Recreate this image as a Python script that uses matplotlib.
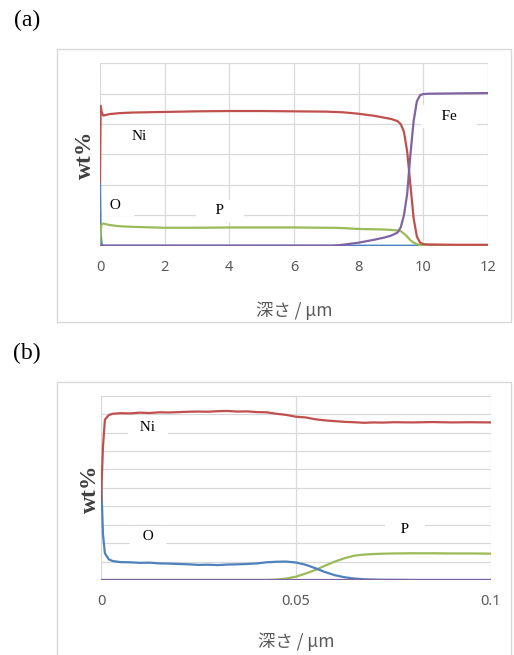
import matplotlib
matplotlib.use("Agg")
import matplotlib.pyplot as plt
from matplotlib.patches import Rectangle

RED = "#c0504d"
BLUE = "#4f81bd"
GREEN = "#9bbb59"
PURPLE = "#8064a2"
GRID = "#d9d9d9"
TXT = "#595959"

# ---- panel (a): depth 0-12 um ----
depth_a = [0, 0.02, 0.05, 0.1, 0.3, 0.6, 1, 2, 3, 4, 5, 6, 7, 7.2, 7.5, 8, 8.5,
           8.8, 9.0, 9.2, 9.3, 9.4, 9.5, 9.6, 9.7, 9.8, 9.9, 10.0, 10.2, 11, 12]
ni_a = [21, 46, 44, 42.8, 43.3, 43.6, 43.8, 44.0, 44.2, 44.3, 44.3, 44.2, 44.1, 44.0,
        43.9, 43.4, 42.7, 42.1, 41.7, 41.0, 40.0, 37.5, 31, 20, 9, 3, 1, 0.5, 0.4, 0.3, 0.3]
o_a = [21, 4, 0.5, 0, 0, 0, 0, 0, 0, 0, 0, 0, 0, 0, 0, 0, 0,
       0, 0, 0, 0, 0, 0, 0, 0, 0, 0, 0, 0, 0, 0]
p_a = [0, 5, 7.0, 7.3, 6.8, 6.4, 6.2, 5.9, 5.9, 6.0, 6.0, 6.0, 5.9, 5.9, 5.8, 5.5, 5.4,
       5.3, 5.2, 5.0, 4.8, 4.0, 3.0, 1.8, 1.0, 0.5, 0.2, 0.2, 0.2, 0.2, 0.2]
fe_a = [0, 0, 0, 0, 0, 0, 0, 0, 0, 0, 0, 0, 0, 0, 0.3, 1.0, 2.0,
        2.7, 3.3, 4.3, 6, 10, 17, 30, 41, 47.5, 49.5, 49.9, 50, 50.1, 50.2]
xticks_a = [0, 2, 4, 6, 8, 10, 12]

# ---- panel (b): depth 0-0.1 um ----
depth_b = [0, 0.0005, 0.001, 0.002, 0.003, 0.005, 0.0075, 0.01, 0.0125, 0.015, 0.0175,
           0.02, 0.0225, 0.025, 0.0275, 0.03, 0.0325, 0.035, 0.0375, 0.04, 0.0425,
           0.045, 0.0475, 0.05, 0.0525, 0.055, 0.0575, 0.06, 0.0625, 0.065, 0.0675,
           0.07, 0.0725, 0.075, 0.08, 0.085, 0.09, 0.095, 0.1]
ni_b = [43, 72, 87, 89.5, 90.2, 90.5, 90.4, 90.8, 90.6, 91.0, 90.9, 91.1, 91.3, 91.4,
        91.3, 91.6, 91.7, 91.4, 91.5, 91.1, 91.0, 90.2, 89.6, 88.6, 88.2, 87.2, 86.6,
        86.2, 85.8, 85.6, 85.3, 85.5, 85.4, 85.6, 85.5, 85.7, 85.5, 85.6, 85.5]
o_b = [57, 25, 14.5, 11.2, 10.3, 9.7, 9.6, 9.3, 9.4, 9.0, 8.9, 8.7, 8.5, 8.2, 8.3,
       8.1, 8.4, 8.5, 8.7, 9.0, 9.6, 9.9, 10.0, 9.5, 8.3, 6.4, 4.3, 2.6, 1.5, 0.8, 0.4,
       0.2, 0.1, 0.1, 0, 0, 0, 0, 0]
p_b = [0, 0, 0, 0, 0, 0, 0, 0, 0, 0, 0, 0, 0, 0, 0, 0, 0, 0, 0, 0, 0,
       0.2, 0.8, 1.8, 3.5, 5.4, 7.8, 10, 11.8, 13.2, 13.8, 14.1, 14.3, 14.4, 14.5,
       14.5, 14.4, 14.4, 14.3]
fe_b = [0] * len(depth_b)
xticks_b = [0, 0.05, 0.1]
xticklabels_b = ["0", "0.05", "0.1"]

W, H = 514, 655
fig = plt.figure(figsize=(W / 100, H / 100), dpi=100)


def fx(px):
    return px / W


def fy(py):
    return 1 - py / H


def frame(x0, y0, x1, y1):
    fig.patches.append(Rectangle((fx(x0), fy(y1)), fx(x1) - fx(x0), fy(y0) - fy(y1),
                                 transform=fig.transFigure, facecolor="none",
                                 edgecolor=GRID, lw=1.0, zorder=0))


def label(ax, x, y, s, pad=0.25):
    ax.text(x, y, s, family="Liberation Serif", fontsize=11, color="black",
            ha="center", va="center", zorder=1.5,
            bbox=dict(facecolor="white", edgecolor="none", boxstyle="square,pad=%s" % pad))


def setup(ax, xmax, ymax, ystep, xticks, xticklabels=None):
    ax.set_xlim(0, xmax)
    ax.set_ylim(0, ymax)
    ax.set_yticks(range(0, ymax + 1, ystep))
    ax.set_yticklabels([])
    ax.set_xticks(xticks)
    if xticklabels is not None:
        ax.set_xticklabels(xticklabels)
    ax.tick_params(length=0, pad=10, labelsize=10.5, labelcolor=TXT)
    for t in ax.get_xticklabels():
        t.set_family("Noto Sans")
    for s in ax.spines.values():
        s.set_visible(False)
    ax.grid(True, color=GRID, lw=0.9)
    ax.set_axisbelow(True)


# panel (a)
frame(57, 49, 511, 322)
ax1 = fig.add_axes([fx(100), fy(245.7), fx(488) - fx(100), fy(63.3) - fy(245.7)])
setup(ax1, 12, 60, 10, xticks_a)
ax1.plot(depth_a, o_a, color=BLUE, lw=1.6, zorder=2)
ax1.plot(depth_a, p_a, color=GREEN, lw=1.6, zorder=3)
ax1.plot(depth_a, ni_a, color=RED, lw=1.6, zorder=4)
ax1.plot(depth_a, fe_a, color=PURPLE, lw=1.6, zorder=5)
label(ax1, 1.2, 35.8, "Ni")
label(ax1, 0.55, 13.3, " O  ", pad=0.3)
label(ax1, 3.7, 11.5, "    P    ", pad=0.3)
label(ax1, 10.8, 42.5, "    Fe    ", pad=0.3)
ax1.set_xlabel("深さ / μm", family=["Noto Sans CJK JP", "DejaVu Sans"],
               fontsize=12.5, color=TXT, labelpad=19)

# panel (b)
frame(57, 382, 511, 670)
ax2 = fig.add_axes([fx(101), fy(580), fx(490.7) - fx(101), fy(395.7) - fy(580)])
setup(ax2, 0.1, 100, 10, xticks_b, xticklabels_b)
ax2.set_xlim(0, 0.1)
ax2.plot(depth_b, p_b, color=GREEN, lw=1.6, zorder=2)
ax2.plot(depth_b, o_b, color=BLUE, lw=1.6, zorder=3)
ax2.plot(depth_b, ni_b, color=RED, lw=1.6, zorder=4)
ax2.plot(depth_b, fe_b, color=PURPLE, lw=1.6, zorder=5)
label(ax2, 0.012, 82.5, "  Ni  ", pad=0.3)
label(ax2, 0.012, 23.5, "  O  ", pad=0.3)
label(ax2, 0.078, 27.5, "   P   ", pad=0.3)
ax2.set_xlabel("深さ / μm", family=["Noto Sans CJK JP", "DejaVu Sans"],
               fontsize=12.5, color=TXT, labelpad=17)

# y axis titles and panel tags
fig.text(fx(85), fy(155), "wt%", rotation=90, family="Liberation Serif",
         fontweight="bold", fontsize=17, color="#404040", ha="center", va="center")
fig.text(fx(90), fy(489), "wt%", rotation=90, family="Liberation Serif",
         fontweight="bold", fontsize=17, color="#404040", ha="center", va="center")
fig.text(fx(27), fy(20), "(a)", family="Liberation Serif", fontsize=17,
         ha="center", va="center")
fig.text(fx(27), fy(353), "(b)", family="Liberation Serif", fontsize=17,
         ha="center", va="center")

fig.savefig("out.png", dpi=100)
